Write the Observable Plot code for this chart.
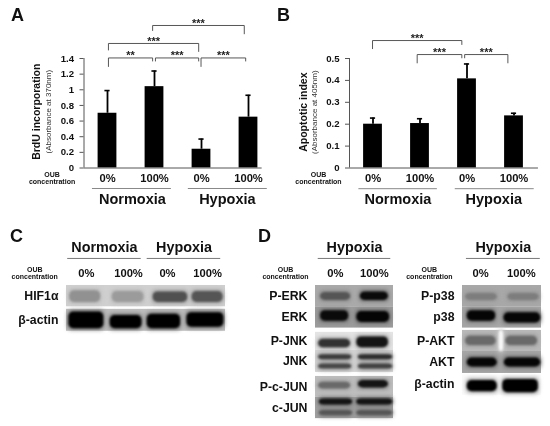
<!DOCTYPE html>
<html>
<head>
<meta charset="utf-8">
<script src="https://cdn.jsdelivr.net/npm/d3@7"></script>
<script src="https://cdn.jsdelivr.net/npm/@observablehq/plot@0.6"></script>
<style>
html,body{margin:0;padding:0;background:#fff}
#fig{position:relative;width:550px;height:426px;overflow:hidden;filter:blur(0.35px);font-family:"Liberation Sans",Arial,sans-serif}
.letter{position:absolute;font:bold 18px "Liberation Sans",Arial,sans-serif;color:#111;line-height:18px}
.p{position:absolute}
.p svg{overflow:visible}
</style>
</head>
<body>
<div id="fig"></div>
<script>
// ---- bar charts ----
const barPositions = [0.5, 1.5, 2.5, 3.5];
const concentrations = ["0%", "100%", "0%", "100%"];
const brduMeans = [0.70, 1.04, 0.24, 0.65];
const brduUppers = [0.99, 1.24, 0.37, 0.93];
const apoptosisMeans = [0.20, 0.203, 0.407, 0.238];
const apoptosisUppers = [0.228, 0.225, 0.475, 0.25];
const brduTicks = [0, 0.2, 0.4, 0.6, 0.8, 1, 1.2, 1.4];
const apoptosisTicks = [0, 0.1, 0.2, 0.3, 0.4, 0.5];
// significance brackets: x1, x2, y, y of left foot, y of right foot, stars
const brduBrackets = [
  [0.52, 1.46, 1.407, 1.298, 1.368, "**"],
  [1.52, 2.44, 1.407, 1.368, 1.368, "***"],
  [2.49, 3.44, 1.407, 1.298, 1.368, "***"],
  [0.52, 2.44, 1.592, 1.509, 1.49, "***"],
  [1.46, 3.41, 1.822, 1.758, 1.716, "***"]
];
const apoptosisBrackets = [
  [0.49, 2.39, 0.582, 0.545, 0.564, "***"],
  [1.44, 2.39, 0.518, 0.48, 0.503, "***"],
  [2.45, 3.37, 0.518, 0.503, 0.48, "***"]
];
const conditions = ["Normoxia", "Hypoxia"];

// ---- blots ----
// band tuple: row, x1, x2 (lane units), y1, y2 (fraction of row), gray level
const hifRows = ["HIF1α", "β-actin"];
const hifRowStart = [0, 1.12];
const hifRowSize = [1, 1.03];
const hifRowGray = [208, 190];
const hifBands = [
  [0,0.08,0.86,0.25,0.8,145],[0,1.15,1.95,0.28,0.8,155],[0,2.18,3.05,0.3,0.8,80],[0,3.16,3.94,0.28,0.8,85],
  [1,0.06,0.94,0.12,0.88,0],[1,1.1,1.9,0.28,0.88,0],[1,2.03,2.87,0.22,0.88,0],[1,3.03,3.96,0.15,0.82,0]
];
const hifLaneTicks = [0.5, 1.56, 2.54, 3.55];

const mapkRows = ["P-ERK", "ERK", "P-JNK", "JNK", "P-c-JUN", "c-JUN"];
const mapkRowStart = [0, 1, 2.2, 3.05, 4.27, 5.25];
const mapkRowSize = [1, 1, 0.85, 1.03, 0.98, 1];
const mapkRowGray = [170, 155, 228, 212, 190, 160];
const mapkBands = [
  [0,0.13,0.9,0.33,0.7,85],[0,1.15,1.87,0.3,0.7,10],
  [1,0.13,0.85,0.18,0.68,10],[1,1.06,1.9,0.22,0.74,5],
  [2,0.08,0.9,0.38,0.85,50],[2,1.06,1.87,0.25,0.85,20],
  [3,0.08,0.93,0.2,0.42,60],[3,0.08,0.93,0.62,0.85,70],[3,1.1,1.98,0.2,0.42,45],[3,1.1,1.98,0.62,0.85,65],
  [4,0.08,0.9,0.28,0.6,105],[4,1.1,1.87,0.2,0.55,20],
  [5,0.1,0.95,0.08,0.36,20],[5,0.1,0.95,0.62,0.86,85],[5,1.06,1.98,0.08,0.36,20],[5,1.06,1.98,0.62,0.86,85]
];
const mapkLaneTicks = [0.51, 1.51];

const otherRows = ["P-p38", "p38", "P-AKT", "AKT", "β-actin"];
const otherRowStart = [0, 1, 2.11, 3.1, 4.2];
const otherRowSize = [1, 1, 0.99, 1.03, 0.95];
const otherRowGray = [168, 165, 185, 165, 250];
const otherBands = [
  [0,0.08,0.88,0.38,0.7,125],[0,1.15,1.94,0.38,0.7,125],
  [1,0.12,0.84,0.18,0.68,5],[1,1.05,1.98,0.28,0.76,5],
  [2,0.08,0.85,0.28,0.72,105],[2,0.93,1.04,0,1,248],[2,1.1,1.9,0.28,0.72,105],
  [3,0.12,0.88,0.3,0.7,5],[3,1.06,1.98,0.3,0.7,5],
  [4,0.12,0.88,0.27,0.83,0],[4,1.02,1.92,0.22,0.88,0]
];
const otherLaneTicks = [0.46, 1.49];

const FONT = '"Liberation Sans", Arial, sans-serif';
const INK = "#111";
const fig = document.getElementById("fig");
function place(node, left, top) {
  const d = document.createElement("div");
  d.className = "p"; d.style.left = left + "px"; d.style.top = top + "px";
  d.appendChild(node); fig.appendChild(d);
}
function letter(t, left, top) {
  const d = document.createElement("div");
  d.className = "letter"; d.textContent = t;
  d.style.left = left + "px"; d.style.top = top + "px"; fig.appendChild(d);
}

function barChart(o) {
  const bars = barPositions.map((x, i) => ({x, m: o.means[i], u: o.uppers[i]}));
  const path = [];
  o.brackets.forEach((b, id) => {
    path.push({id, x: b[0], y: b[3]}, {id, x: b[0], y: b[2]}, {id, x: b[1], y: b[2]}, {id, x: b[1], y: b[4]});
  });
  const stars = o.brackets.map(b => ({x: (b[0] + b[1]) / 2, y: b[2], t: b[5]}));
  return Plot.plot({
    width: 275, height: 215,
    marginLeft: o.left, marginRight: 275 - o.left - 47 * o.xmax, marginTop: 58, marginBottom: 47.5,
    style: {fontFamily: FONT, color: INK, background: "transparent"},
    x: {domain: [0, o.xmax]},
    y: {domain: [0, o.ymax]},
    marks: [
      Plot.rect(bars, {x1: d => d.x - 0.2, x2: d => d.x + 0.2, y1: () => 0, y2: d => d.m, fill: "#000"}),
      Plot.ruleX(bars, {x: "x", y1: "m", y2: "u", stroke: "#000", strokeWidth: 1.8}),
      Plot.ruleY(bars, {y: "u", x1: d => d.x - 0.055, x2: d => d.x + 0.055, stroke: "#000", strokeWidth: 1.6}),
      Plot.ruleY([0], {stroke: "#555", strokeWidth: 1}),
      Plot.ruleX([0], {y1: () => 0, y2: () => o.ymax, stroke: "#555", strokeWidth: 1}),
      Plot.axisY({ticks: o.ticks, tickFormat: String, tickSize: 4, tickPadding: 6, stroke: "#555", fontSize: 9.6, fontWeight: "bold", label: null}),
      Plot.axisX({ticks: barPositions, tickFormat: (d, i) => concentrations[i], tickSize: 0, tickPadding: 6, fontSize: 11.2, fontWeight: "bold", label: null}),
      Plot.line(path, {x: "x", y: "y", z: "id", stroke: "#444", strokeWidth: 0.9}),
      Plot.text(stars, {x: "x", y: "y", text: "t", dy: -2.5, fontSize: 11, fontWeight: "bold", fill: "#222"}),
      // group headers
      Plot.ruleY(conditions, {y: () => o.groupY, x1: (d, i) => o.groupX[i][0], x2: (d, i) => o.groupX[i][1], stroke: "#888", strokeWidth: 1}),
      Plot.text(conditions, {x: (d, i) => o.groupC[i], y: () => o.groupTextY, text: d => d, fontSize: 14.5, fontWeight: "bold", fill: INK}),
      Plot.text(["OUB\nconcentration"], {x: () => o.oubX, y: () => o.oubY, text: d => d, fontSize: 7, lineHeight: 1, fontWeight: "bold", fill: INK}),
      Plot.text([o.title], {x: () => o.titleX, y: () => o.titleY, text: d => d, rotate: -90, fontSize: 10.5, fontWeight: "bold", fill: INK}),
      Plot.text([o.sub], {x: () => o.subX, y: () => o.titleY, text: d => d, rotate: -90, fontSize: 8, fill: "#333"})
    ]
  });
}

function blot(o) {
  const rowH = o.rowH, N = o.rowCount;
  const rows = o.rows.map((name, i) => ({name, y1: o.start[i], y2: o.start[i] + o.size[i], g: o.gray[i]}));
  const gray = g => `rgb(${g},${g},${g})`;
  const bands = o.bands.map(b => ({
    x1: b[1], x2: b[2],
    y1: o.start[b[0]] + b[3] * o.size[b[0]],
    y2: o.start[b[0]] + b[4] * o.size[b[0]],
    fill: gray(b[5]),
    halo: gray(Math.round(b[5] * 0.35 + o.gray[b[0]] * 0.65)),
    d: 0.07 * o.size[b[0]]
  }));
  return Plot.plot({
    width: o.marginLeft + o.stripW + 5, height: o.marginTop + rowH * N + 5,
    marginLeft: o.marginLeft, marginRight: 5, marginTop: o.marginTop, marginBottom: 5,
    style: {fontFamily: FONT, color: INK, background: "transparent"},
    x: {domain: [0, o.lanes]},
    y: {domain: [N, 0]},
    color: {type: "identity"},
    marks: [
      Plot.rect(rows, {x1: () => 0, x2: () => o.lanes, y1: "y1", y2: "y2", fill: d => gray(d.g)}),
      Plot.rect(bands, {x1: d => d.x1 - 0.02, x2: d => d.x2 + 0.02, y1: d => d.y1 - d.d, y2: d => d.y2 + d.d, fill: "halo", rx: 4, imageFilter: "blur(2px)"}),
      Plot.rect(bands, {x1: "x1", x2: "x2", y1: "y1", y2: "y2", fill: "fill", rx: 5, imageFilter: "blur(1.2px)"}),
      Plot.axisY({ticks: o.labelY, tickFormat: (d, i) => o.rows[i], tickSize: 0, tickPadding: 8, fontSize: 12.3, fontWeight: "bold", label: null}),
      Plot.axisX({anchor: "top", ticks: o.laneTicks, tickFormat: (d, i) => o.laneNames[i], tickSize: 0, tickPadding: 8, fontSize: 11.2, fontWeight: "bold", label: null}),
      Plot.ruleY(o.heads, {y: () => -1.27, x1: d => d.x1, x2: d => d.x2, stroke: "#777", strokeWidth: 1}),
      Plot.text(o.heads, {x: d => (d.x1 + d.x2) / 2, y: () => -1.78, text: "t", fontSize: 14.4, fontWeight: "bold", fill: INK}),
      Plot.text(["OUB\nconcentration"], {x: () => o.oubX, y: () => -0.56, text: d => d, fontSize: 7, lineHeight: 0.95, fontWeight: "bold", fill: INK})
    ]
  });
}

place(barChart({
  left: 83.5, xmax: 3.79, ymax: 1.4, means: brduMeans, uppers: brduUppers, ticks: brduTicks, brackets: brduBrackets,
  groupY: -0.262, groupX: [[0.18, 1.86], [2.22, 3.9]], groupC: [1.03, 3.05], groupTextY: -0.405,
  oubX: -0.68, oubY: -0.125, title: "BrdU incorporation", titleX: -1.01, titleY: 0.72,
  sub: "(Absorbance at 370nm)", subX: -0.76
}), 0, 0);
place(barChart({
  left: 74, xmax: 4.02, ymax: 0.5, means: apoptosisMeans, uppers: apoptosisUppers, ticks: apoptosisTicks, brackets: apoptosisBrackets,
  groupY: -0.0945, groupX: [[0.2, 1.87], [2.25, 3.93]], groupC: [1.03, 3.07], groupTextY: -0.145,
  oubX: -0.66, oubY: -0.045, title: "Apoptotic index", titleX: -0.98, titleY: 0.255,
  sub: "(Absorbance at 405nm)", subX: -0.74
}), 275, 0);

place(blot({
  marginLeft: 66, marginTop: 60, stripW: 159, rowH: 21.3, rowCount: 2.15, lanes: 4,
  rows: hifRows, start: hifRowStart, size: hifRowSize, gray: hifRowGray, bands: hifBands,
  labelY: [0.5, 1.6], laneTicks: hifLaneTicks, laneNames: concentrations,
  heads: [{t: "Normoxia", x1: 0.03, x2: 1.88}, {t: "Hypoxia", x1: 2.03, x2: 3.88}], oubX: -0.8
}), 0, 225);
place(blot({
  marginLeft: 60, marginTop: 60, stripW: 78, rowH: 21.3, rowCount: 6.3, lanes: 2,
  rows: mapkRows, start: mapkRowStart, size: mapkRowSize, gray: mapkRowGray, bands: mapkBands,
  labelY: [0.5, 1.5, 2.6, 3.55, 4.75, 5.75], laneTicks: mapkLaneTicks, laneNames: ["0%", "100%"],
  heads: [{t: "Hypoxia", x1: 0.07, x2: 1.93}], oubX: -0.77
}), 255, 225);
place(blot({
  marginLeft: 62, marginTop: 60, stripW: 79, rowH: 21.3, rowCount: 5.2, lanes: 2,
  rows: otherRows, start: otherRowStart, size: otherRowSize, gray: otherRowGray, bands: otherBands,
  labelY: [0.5, 1.5, 2.6, 3.6, 4.65], laneTicks: otherLaneTicks, laneNames: ["0%", "100%"],
  heads: [{t: "Hypoxia", x1: 0.1, x2: 1.97}], oubX: -0.84
}), 400, 225);

letter("A", 11, 6);
letter("B", 277, 6);
letter("C", 10, 227);
letter("D", 258, 227);
</script>
</body>
</html>
